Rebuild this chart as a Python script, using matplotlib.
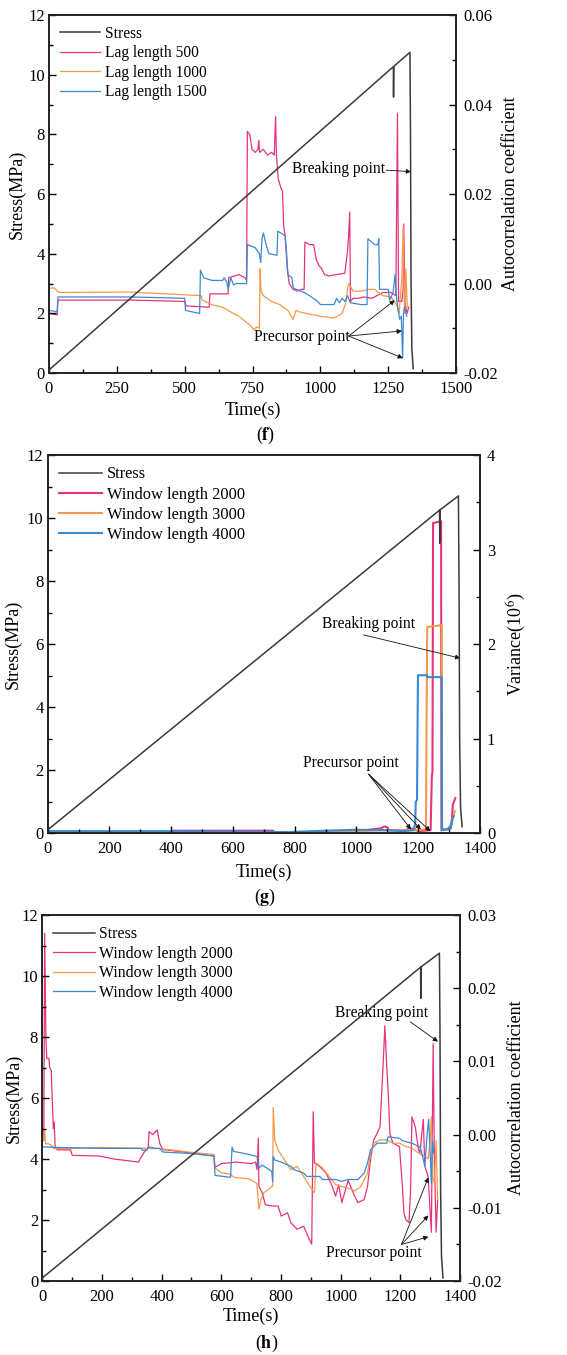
import numpy as np
import matplotlib
matplotlib.use('Agg')
import matplotlib.pyplot as plt
from matplotlib.ticker import MultipleLocator

plt.rcParams['font.family'] = ['Liberation Serif', 'DejaVu Serif']
plt.rcParams['mathtext.fontset'] = 'stix'
plt.rcParams['axes.unicode_minus'] = False

# ============================================================
# DATA
# ============================================================
# stress curves (left axis, MPa)
f_stress_t = [0, 1269, 1269.5, 1270.5, 1330, 1332, 1334, 1337, 1342]
f_stress = [0.1, 10.27, 9.25, 10.28, 10.75, 8.0, 3.0, 0.8, 0.15]
g_stress_t = [0, 1269, 1269.5, 1270.5, 1330, 1332, 1334, 1337, 1342]
g_stress = [0.1, 10.25, 9.2, 10.26, 10.7, 8.0, 3.0, 0.8, 0.2]
h_stress_t = [0, 1268, 1268.5, 1269.5, 1331, 1333, 1335, 1338, 1343]
h_stress = [0.1, 10.29, 9.27, 10.3, 10.75, 8.0, 3.0, 0.8, 0.1]

# (f) autocorrelation coefficient, lag lengths
f_lag500_t = [0, 30, 33, 300, 500, 505, 590, 593, 660, 662,
              700, 722, 728, 731, 740, 748, 760, 770, 773, 776,
              790, 805, 820, 830, 835, 838, 845, 855, 860, 865,
              870, 878, 885, 900, 915, 930, 940, 943, 960, 975,
              985, 995, 1005, 1015, 1030, 1060, 1090, 1100, 1104, 1108,
              1111, 1120, 1140, 1160, 1190, 1230, 1260, 1278, 1284, 1288,
              1300, 1305, 1307, 1312, 1320, 1325]
f_lag500 = [-0.0067, -0.007, -0.0037, -0.0037, -0.004, -0.005, -0.0053, -0.0023, -0.0023, 0.0013,
            0.002, 0.0013, 0.0007, 0.034, 0.0333, 0.03, 0.0293, 0.03, 0.032, 0.0293,
            0.03, 0.0287, 0.0293, 0.0287, 0.0373, 0.0287, 0.0233, 0.0213, 0.0207, 0.0127,
            0.0107, 0.0033, 0.0, -0.0013, -0.0017, -0.0013, -0.0013, 0.0093, 0.0087, 0.0087,
            0.0053, 0.004, 0.0033, 0.002, 0.0017, 0.002, 0.0023, 0.0073, 0.0107, 0.016,
            -0.004, -0.0033, -0.0033, -0.003, -0.0033, -0.002, -0.002, -0.0027, 0.038, -0.004,
            -0.004, -0.0013, 0.0133, -0.0047, -0.0067, -0.0053]

f_lag1000_t = [0, 20, 30, 40, 300, 430, 560, 565, 600, 640,
               680, 700, 720, 740, 755, 765, 775, 778, 781, 790,
               820, 850, 880, 900, 910, 920, 950, 1000, 1050, 1080,
               1095, 1100, 1105, 1120, 1150, 1180, 1200, 1230, 1260, 1280,
               1290, 1300, 1305, 1310, 1315, 1320]
f_lag1000 = [-0.001, -0.001, -0.0017, -0.002, -0.0019, -0.0023, -0.0027, -0.0037, -0.0047, -0.0053,
             -0.0067, -0.0073, -0.0083, -0.0093, -0.0103, -0.0097, -0.01, 0.0033, -0.0017, -0.0027,
             -0.004, -0.0047, -0.006, -0.008, -0.006, -0.0063, -0.0067, -0.0073, -0.0077, -0.0067,
             -0.004, -0.001, 0.0, -0.0017, -0.0017, -0.0013, -0.0013, -0.0027, -0.003, -0.0047,
             -0.0067, 0.0013, 0.0127, -0.0067, 0.0033, -0.0053]

f_lag1500_t = [0, 30, 33, 300, 500, 503, 555, 558, 570, 600,
               640, 645, 655, 660, 670, 680, 690, 720, 728, 731,
               760, 775, 780, 785, 790, 800, 810, 840, 843, 870,
               875, 880, 895, 900, 940, 960, 990, 1000, 1050, 1060,
               1070, 1080, 1090, 1100, 1110, 1150, 1172, 1175, 1200, 1212,
               1215, 1218, 1250, 1255, 1268, 1275, 1280, 1285, 1292, 1298,
               1303, 1306, 1310, 1318]
f_lag1500 = [-0.006, -0.0063, -0.003, -0.003, -0.0033, -0.006, -0.0067, 0.003, 0.0013, 0.0007,
             0.0007, 0.0013, 0.0003, -0.0013, 0.0013, -0.0003, 0.0, 0.0, 0.0, 0.0087,
             0.008, 0.0067, 0.0047, 0.01, 0.0113, 0.0087, 0.0067, 0.0063, 0.0117, 0.0107,
             0.0073, 0.002, 0.0013, -0.001, -0.002, -0.0027, -0.004, -0.0047, -0.0047, -0.0033,
             -0.0043, -0.0033, -0.004, -0.0027, -0.0043, -0.0047, -0.0047, 0.01, 0.0087, 0.0087,
             0.01, -0.0013, -0.0013, -0.0037, -0.002, 0.002, -0.0027, -0.0053, -0.008, -0.0073,
             -0.0167, -0.0067, -0.0053, -0.0073]

# (g) variance (10^6), window lengths
g_win2000_t = [0, 400, 405, 730, 735, 1000, 1080, 1090, 1100, 1105,
               1160, 1170, 1190, 1200, 1240, 1244, 1246, 1248, 1274, 1275,
               1290, 1300, 1308, 1312, 1320]
g_win2000 = [0.01, 0.01, 0.025, 0.025, 0.005, 0.02, 0.05, 0.07, 0.06, 0.03,
             0.03, 0.05, 0.04, 0.02, 0.03, 0.6, 0.65, 3.28, 3.3, 0.03,
             0.04, 0.05, 0.1, 0.3, 0.37]
g_win3000_t = [0, 780, 1000, 1100, 1200, 1225, 1227, 1229, 1276, 1277,
               1300, 1305, 1312, 1318]
g_win3000 = [0.01, 0.01, 0.02, 0.03, 0.03, 0.04, 1.2, 2.18, 2.2, 0.04,
             0.04, 0.05, 0.15, 0.23]
g_win4000_t = [0, 400, 780, 900, 1000, 1100, 1150, 1185, 1190, 1192,
               1196, 1199, 1228, 1229, 1276, 1277, 1295, 1300, 1305, 1310,
               1315]
g_win4000 = [0.02, 0.02, 0.01, 0.025, 0.035, 0.03, 0.02, 0.03, 0.1, 0.33,
             0.35, 1.67, 1.67, 1.65, 1.65, 0.03, 0.04, 0.06, 0.05, 0.15,
             0.18]

# (h) autocorrelation coefficient, window lengths
h_win2000_t = [5, 8, 12, 15, 22, 25, 30, 35, 37, 40,
               43, 50, 95, 100, 190, 240, 322, 332, 342, 355,
               358, 370, 380, 385, 394, 404, 414, 500, 575, 579,
               600, 650, 700, 715, 720, 724, 726, 737, 748, 769,
               790, 801, 822, 833, 854, 876, 892, 903, 908, 912,
               929, 951, 972, 983, 993, 1004, 1025, 1047, 1058, 1079,
               1090, 1100, 1111, 1122, 1132, 1143, 1148, 1154, 1159, 1165,
               1175, 1197, 1207, 1212, 1218, 1229, 1234, 1239, 1250, 1261,
               1266, 1272, 1277, 1282, 1293, 1304, 1310, 1314, 1320, 1325]
h_win2000 = [-0.00083, 0.0275, 0.01333, 0.01042, 0.01042, 0.00917, 0.00875, 0.00292, 0.00083, 0.00167,
             -0.00167, -0.00208, -0.00208, -0.00283, -0.00292, -0.00333, -0.00375, -0.00304, -0.00238, -0.00167,
             0.00042, 0.0, 0.00042, 0.00063, -0.00125, -0.00208, -0.00208, -0.0025, -0.00292, -0.00446,
             -0.00396, -0.00375, -0.00396, -0.00375, -0.0048, -0.0005, -0.00708, -0.00796, -0.00958, -0.00975,
             -0.00975, -0.01113, -0.01067, -0.01204, -0.01292, -0.0125, -0.01404, -0.01496, 0.00313, -0.00387,
             -0.00433, -0.00525, -0.00708, -0.00842, -0.00683, -0.00929, -0.00625, -0.00842, -0.00929, -0.00887,
             -0.00708, -0.00342, -0.00071, 0.00017, 0.00108, 0.01013, 0.01488, 0.00967, 0.00604, 0.00017,
             -0.00117, -0.00163, -0.00708, -0.01067, -0.01158, -0.01204, -0.00796, 0.00242, 0.00108, -0.00208,
             -0.0025, 0.00017, 0.00208, -0.00433, -0.00571, -0.01333, 0.01242, -0.00333, -0.01333, -0.00887]

h_win3000_t = [0, 5, 8, 11, 20, 30, 38, 100, 200, 300,
               394, 500, 575, 579, 600, 631, 641, 693, 719, 726,
               733, 742, 758, 769, 772, 774, 779, 790, 811, 833,
               854, 876, 897, 908, 912, 918, 940, 961, 983, 1004,
               1025, 1047, 1068, 1090, 1100, 1111, 1132, 1154, 1175, 1197,
               1218, 1239, 1261, 1282, 1293, 1300, 1304, 1309, 1314, 1320,
               1325]
h_win3000 = [-0.00083, -0.00063, 0.00063, -0.00125, -0.00125, -0.00146, -0.00188, -0.00188, -0.00175, -0.00183,
             -0.00192, -0.00242, -0.00271, -0.00458, -0.00521, -0.00542, -0.00583, -0.00604, -0.00667, -0.01021,
             -0.00887, -0.00796, -0.0075, -0.00708, -0.00708, 0.00371, -0.00071, -0.00208, -0.00342, -0.0048,
             -0.00433, -0.00571, -0.00708, -0.00771, -0.00792, -0.00387, -0.00458, -0.00571, -0.00683, -0.00708,
             -0.00729, -0.00771, -0.00708, -0.00525, -0.00254, -0.00117, -0.00071, -0.00071, -0.00117, -0.00117,
             -0.00163, -0.00183, -0.00254, -0.003, -0.00333, -0.00083, 0.00242, -0.00583, -0.00667, -0.00083,
             -0.00887]

h_win4000_t = [0, 48, 200, 332, 337, 352, 358, 380, 394, 404,
               500, 575, 579, 590, 631, 636, 641, 693, 720, 726,
               737, 769, 772, 774, 779, 800, 833, 844, 876, 886,
               929, 940, 983, 1004, 1025, 1058, 1068, 1079, 1090, 1100,
               1111, 1122, 1154, 1159, 1197, 1207, 1239, 1261, 1266, 1272,
               1282, 1290, 1295, 1300, 1304, 1308, 1312]
h_win4000 = [-0.00167, -0.00175, -0.00188, -0.00188, -0.00217, -0.00208, -0.00167, -0.00188, -0.00188, -0.00238,
             -0.00258, -0.00292, -0.00558, -0.00563, -0.00583, -0.00167, -0.00229, -0.00271, -0.003, -0.00458,
             -0.00417, -0.005, -0.00638, -0.003, -0.00346, -0.00375, -0.00433, -0.0048, -0.00525, -0.00571,
             -0.00571, -0.00613, -0.00613, -0.00638, -0.00613, -0.00613, -0.00571, -0.00525, -0.00387, -0.00208,
             -0.00163, -0.00117, -0.00117, -0.00029, -0.0005, -0.00083, -0.00117, -0.00163, -0.00167, -0.00254,
             -0.00433, 0.00017, 0.00208, -0.00254, -0.00667, -0.00083, -0.0025]

# ============================================================
# STYLE
# ============================================================
STRESS_C = '#3a3a3a'
PINK = '#e6337c'
ORANGE = '#f4994a'
BLUE = '#3a8ad3'
TICK_FS = 12
LABEL_FS = 13
NOTE_FS = 11.2


def setup_panel(rect, xmax, xmajor, xminor, rlim, rmajor, rminor, rlabel,
                llabel_x, rlabel_x, xlabel_y, rfmt):
    ax = fig.add_axes(rect)
    ax2 = ax.twinx()
    ax.set_xlim(0, xmax)
    ax.set_ylim(0, 12)
    ax2.set_ylim(*rlim)
    ax.xaxis.set_major_locator(MultipleLocator(xmajor))
    ax.xaxis.set_minor_locator(MultipleLocator(xminor))
    ax.yaxis.set_major_locator(MultipleLocator(2))
    ax.yaxis.set_minor_locator(MultipleLocator(1))
    ax2.yaxis.set_major_locator(MultipleLocator(rmajor))
    ax2.yaxis.set_minor_locator(MultipleLocator(rminor))
    ax2.yaxis.set_major_formatter(rfmt)
    for a in (ax, ax2):
        a.tick_params(which='both', direction='in', labelsize=TICK_FS, width=1.0)
        a.tick_params(which='major', length=5)
        a.tick_params(which='minor', length=3)
        for sp in a.spines.values():
            sp.set_linewidth(1.2)
            sp.set_color('#222222')
    ax.tick_params(axis='x', which='both', top=False, pad=6)
    ax.tick_params(axis='y', pad=3)
    ax2.tick_params(axis='y', pad=5)
    ax.set_xlabel('Time(s)', fontsize=LABEL_FS)
    ax.set_ylabel('Stress(MPa)', fontsize=LABEL_FS)
    ax2.set_ylabel(rlabel, fontsize=LABEL_FS)
    ax.xaxis.set_label_coords(0.5, xlabel_y)
    ax.yaxis.set_label_coords(llabel_x, 0.5)
    ax2.yaxis.set_label_coords(rlabel_x, 0.5)
    return ax, ax2


def arrow(ax, start, tip):
    ax.annotate('', xy=tip, xytext=start,
                arrowprops=dict(arrowstyle='-|>', color='#111111', lw=0.6,
                                mutation_scale=7, shrinkA=0, shrinkB=0))


def finish(ax, ax2, stress_t, stress, series_lw, labels, legend_fs, spacing):
    ax.plot(stress_t, stress, color=STRESS_C, lw=1.1, zorder=5)
    ax.set_zorder(ax2.get_zorder() + 1)
    ax.patch.set_visible(False)
    handles = [plt.Line2D([], [], color=STRESS_C, lw=1.1)]
    handles += [plt.Line2D([], [], color=c, lw=series_lw) for c in (PINK, ORANGE, BLUE)]
    ax.legend(handles, labels, loc='upper left', frameon=False, fontsize=legend_fs,
              handlelength=2.6, handletextpad=0.3, labelspacing=spacing,
              borderaxespad=0.3)


fig = plt.figure(figsize=(5.67, 13.55), dpi=100)

# ============================================================
# PANEL (f)
# ============================================================
ax, ax2 = setup_panel([0.0864, 0.7247, 0.718, 0.2642], 1500, 250, 125,
                      (-0.02, 0.06), 0.02, 0.01, 'Autocorrelation coefficient',
                      -0.057, 1.112, -0.081, '{x:.2f}')
ax2.plot(f_lag500_t, f_lag500, color=PINK, lw=0.9)
ax2.plot(f_lag1000_t, f_lag1000, color=ORANGE, lw=0.9)
ax2.plot(f_lag1500_t, f_lag1500, color=BLUE, lw=0.9)
finish(ax, ax2, f_stress_t, f_stress, 0.9,
       ['Stress', 'Lag length 500', 'Lag length 1000', 'Lag length 1500'], 11.2, 0.22)
ax.text(897, 6.85, 'Breaking point', fontsize=NOTE_FS, va='center', ha='left')
arrow(ax, (1242, 6.8), (1334, 6.75))
ax.text(930, 1.2, 'Precursor point', fontsize=NOTE_FS, va='center', ha='center')
for tip in [(1274, 2.44), (1300, 1.41), (1304, 0.5)]:
    arrow(ax, (1104, 1.24), tip)
fig.text(0.468, 0.679, r'($\mathbf{f}$)', ha='center', va='center', fontsize=13)

# ============================================================
# PANEL (g)
# ============================================================
ax, ax2 = setup_panel([0.0841, 0.3852, 0.7625, 0.279], 1400, 200, 100,
                      (0, 4), 1, 0.5, r'Variance(10$^6$)',
                      -0.059, 1.058, -0.082, '{x:.0f}')
ax2.plot(g_win2000_t, g_win2000, color=PINK, lw=1.5)
ax2.plot(g_win3000_t, g_win3000, color=ORANGE, lw=1.5)
ax2.plot(g_win4000_t, g_win4000, color=BLUE, lw=1.5)
finish(ax, ax2, g_stress_t, g_stress, 1.5,
       ['Stress', 'Window length 2000', 'Window length 3000', 'Window length 4000'], 11.8, 0.25)
ax.text(1039, 6.62, 'Breaking point', fontsize=NOTE_FS, va='center', ha='center')
arrow(ax, (1023, 6.29), (1336, 5.55))
ax.text(982, 2.22, 'Precursor point', fontsize=NOTE_FS, va='center', ha='center')
for tip in [(1176, 0.12), (1208, 0.12), (1239, 0.06)]:
    arrow(ax, (1039, 1.87), tip)
fig.text(0.468, 0.338, r'($\mathbf{g}$)', ha='center', va='center', fontsize=13)

# ============================================================
# PANEL (h)
# ============================================================
ax, ax2 = setup_panel([0.0746, 0.0546, 0.7367, 0.2701], 1400, 200, 100,
                      (-0.02, 0.03), 0.01, 0.005, 'Autocorrelation coefficient',
                      -0.046, 1.115, -0.074, '{x:.2f}')
ax2.plot(h_win2000_t, h_win2000, color=PINK, lw=0.9)
ax2.plot(h_win3000_t, h_win3000, color=ORANGE, lw=0.9)
ax2.plot(h_win4000_t, h_win4000, color=BLUE, lw=0.9)
finish(ax, ax2, h_stress_t, h_stress, 0.9,
       ['Stress', 'Window length 2000', 'Window length 3000', 'Window length 4000'], 11.4, 0.22)
ax.text(1138, 8.79, 'Breaking point', fontsize=NOTE_FS, va='center', ha='center')
arrow(ax, (1233, 8.5), (1326, 7.85))
ax.text(1110, 0.92, 'Precursor point', fontsize=NOTE_FS, va='center', ha='center')
for tip in [(1294, 3.4), (1294, 2.15), (1294, 1.45)]:
    arrow(ax, (1204, 1.2), tip)
fig.text(0.471, 0.0089, r'($\mathbf{h}$)', ha='center', va='center', fontsize=13)

fig.savefig('out.png', dpi=100)
